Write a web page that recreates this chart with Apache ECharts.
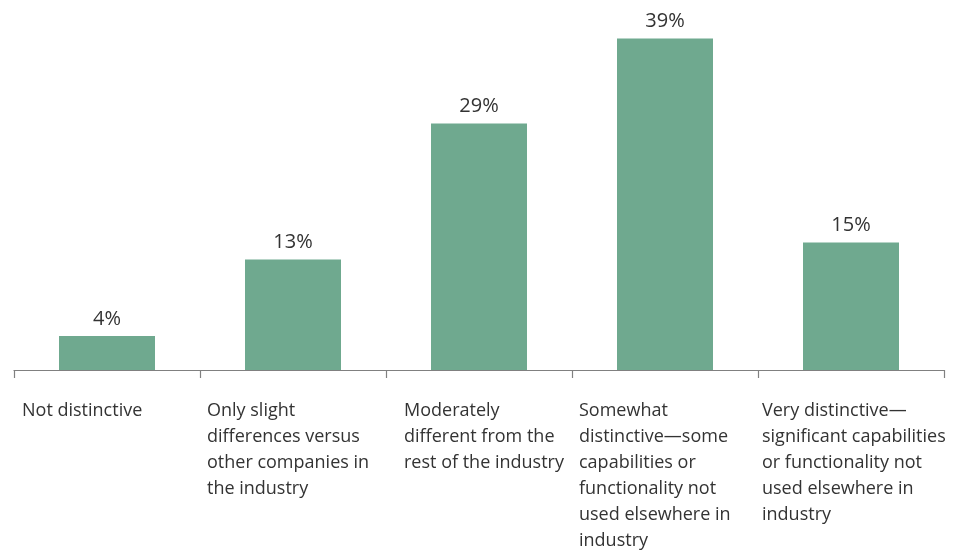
<!DOCTYPE html>
<html><head><meta charset="utf-8">
<script src="https://cdn.jsdelivr.net/npm/echarts@6/dist/echarts.min.js"></script>
<style>html,body{margin:0;padding:0;background:#fff}#c{width:965px;height:554px}</style>
</head><body><div id="c"></div>
<script>
const categories = [
  "Not distinctive",
  "Only slight\ndifferences versus\nother companies in\nthe industry",
  "Moderately\ndifferent from the\nrest of the industry",
  "Somewhat\ndistinctive\u2014some\ncapabilities or\nfunctionality not\nused elsewhere in\nindustry",
  "Very distinctive\u2014\nsignificant capabilities\nor functionality not\nused elsewhere in\nindustry"
];
const values = [4, 13, 29, 39, 15];
const labelShift = [-85, -86, -75, -86, -89];

const chart = echarts.init(document.getElementById('c'));
chart.setOption({
  animation: false,
  grid: {left: 14, right: 21, top: 30, bottom: 180, containLabel: false},
  xAxis: {
    type: 'category',
    data: categories.map((c, i) => ({value: c, textStyle: {align: 'left', verticalAlign: 'top', padding: [0, 0, 0, labelShift[i]]}})),
    axisLine: {lineStyle: {color: '#808080', width: 1.2}},
    axisTick: {show: true, length: 8, lineStyle: {color: '#808080', width: 1.2}},
    axisLabel: {
      interval: 0, align: 'left', verticalAlign: 'top', margin: 28,
      fontFamily: 'Open Sans', fontSize: 18, lineHeight: 26, color: '#333'
    }
  },
  yAxis: {type: 'value', min: 0, max: 40, show: false, splitLine: {show: false}},
  series: [{
    type: 'bar', data: values, barWidth: 96,
    itemStyle: {color: '#6fa98f'},
    label: {show: true, position: 'top', distance: 7, formatter: '{c}%',
      fontFamily: 'Open Sans', fontSize: 20, color: '#333'}
  }]
});
</script></body></html>
